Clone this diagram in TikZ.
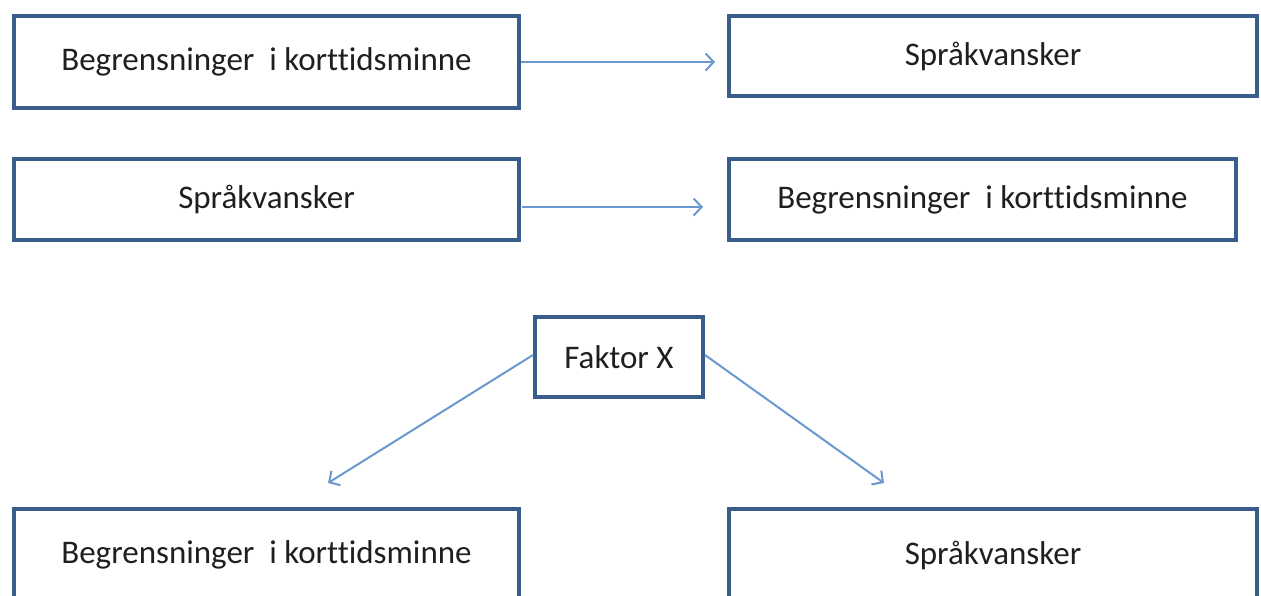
\documentclass[tikz,border=0pt]{standalone}
\usepackage{fontspec}
\setmainfont{Carlito}[Ligatures={NoCommon}]
\usetikzlibrary{arrows.meta}
\definecolor{boxblue}{HTML}{385D8A}
\definecolor{arrblue}{HTML}{6A98D0}
\begin{document}
\begin{tikzpicture}[x=1pt,y=-1pt,
  box/.style={draw=boxblue,line width=4pt,fill=white,inner sep=0pt,
    font=\fontsize{33}{38}\selectfont,text=black!88},
  conn/.style={draw=arrblue,line width=2pt,-{Straight Barb[length=8pt,width=17pt,line width=2pt]}}]
\useasboundingbox (0,0) rectangle (1261,596);
\clip (0,0) rectangle (1261,596);
\fill[white] (0,0) rectangle (1261,596);
\node[box,minimum width=505pt,minimum height=92pt] (b1) at (266.5,62) {Begrensninger\ \ i korttidsminne};
\node[box,minimum width=528pt,minimum height=80pt] (b2) at (993,56) {Språkvansker};
\node[box,minimum width=505pt,minimum height=81pt] (b3) at (266.5,199.5) {Språkvansker};
\node[box,minimum width=507pt,minimum height=81pt] (b4) at (982.5,199.5) {Begrensninger\ \ i korttidsminne};
\node[box,minimum width=168pt,minimum height=80pt] (fx) at (619,357) {Faktor X};
\node[box,minimum width=505pt,minimum height=92pt] (b5) at (266.5,555) {Begrensninger\ \ i korttidsminne};
\node[box,minimum width=528pt,minimum height=92pt] (b6) at (993,555) {Språkvansker};
\coordinate (e1) at (715,62);
\coordinate (s2) at (522,207);
\coordinate (e2) at (703,207);
\coordinate (e3) at (328,483);
\coordinate (e4) at (884,483);
\draw[conn] (b1.east) -- (e1);
\draw[conn] (s2) -- (e2);
\draw[conn] ([yshift=2pt]fx.west) -- (e3);
\draw[conn] ([yshift=2pt]fx.east) -- (e4);
\end{tikzpicture}
\end{document}
